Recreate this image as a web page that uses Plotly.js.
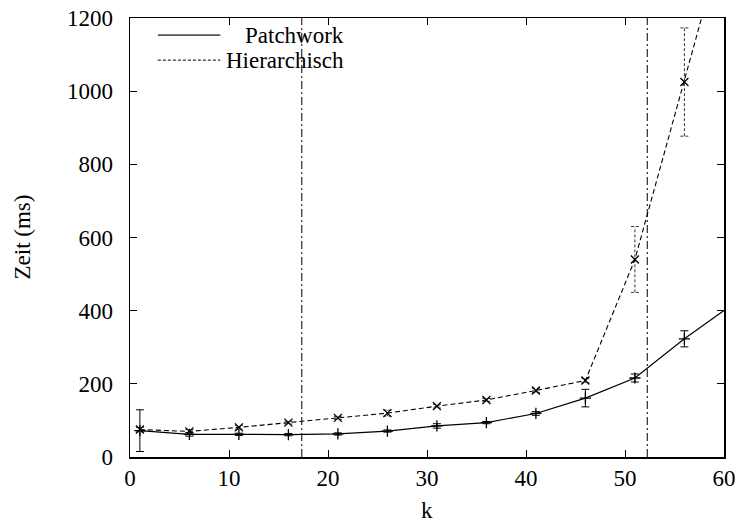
<!DOCTYPE html>
<html>
<head>
<meta charset="utf-8">
<script src="https://cdn.plot.ly/plotly-3.0.1.min.js"></script>
<style>html,body{margin:0;padding:0;background:#fff;}#chart{width:742px;height:527px;}</style>
</head>
<body>
<div id="chart"></div>
<script>
// ---- data ----
const kValues = [1, 6, 11, 16, 21, 26, 31, 36, 41, 46, 51, 56, 61];
const patchworkTime = [72, 62, 62, 61, 63, 71, 85, 94, 119, 161, 216, 323, 420];
const patchworkErr = [57, 5, 3, 3, 3, 3, 6, 3, 5, 24, 11, 22, 20];
const hierarchTime = [75, 70, 81, 94, 107, 120, 139, 156, 182, 209, 540, 1025, 1520];
const hierarchErr = [6, 5, 5, 4, 4, 8, 5, 4, 6, 6, 90, 148, 200];
const thresholds = [17.35, 52.25];
const seriesNames = ['Patchwork', 'Hierarchisch'];
const xTicks = [0, 10, 20, 30, 40, 50, 60];
const yTicks = [0, 200, 400, 600, 800, 1000, 1200];
const xTitle = 'k';
const yTitle = 'Zeit (ms)';

const FONT = "'Liberation Serif', 'Times New Roman', serif";
const FS = 23;

// dashed error bars for Hierarchisch built from the data
const capW = 0.4;
const ebx = [], eby = [];
kValues.forEach((k, i) => {
  const lo = hierarchTime[i] - hierarchErr[i], hi = hierarchTime[i] + hierarchErr[i];
  ebx.push(k, k, null, k - capW, k + capW, null, k - capW, k + capW, null);
  eby.push(lo, hi, null, lo, lo, null, hi, hi, null);
});

const traces = [
  {
    x: kValues, y: patchworkTime, type: 'scatter', mode: 'lines+markers', name: seriesNames[0],
    line: {color: '#000', width: 1.2},
    marker: {symbol: 'cross-thin', size: 8, line: {color: '#000', width: 1.3}},
    error_y: {type: 'data', array: patchworkErr, visible: true, color: '#000', thickness: 1, width: 4},
    cliponaxis: true, showlegend: false
  },
  {
    x: ebx, y: eby, type: 'scatter', mode: 'lines', hoverinfo: 'skip',
    line: {color: '#333', width: 1, dash: '3px,2px'}, showlegend: false
  },
  {
    x: kValues, y: hierarchTime, type: 'scatter', mode: 'lines+markers', name: seriesNames[1],
    line: {color: '#000', width: 1.1, dash: '5px,3px'},
    marker: {symbol: 'x-thin', size: 8, line: {color: '#000', width: 1.3}},
    showlegend: false
  }
];

const shapes = thresholds.map(t => ({
  type: 'line', xref: 'x', yref: 'paper', x0: t, x1: t, y0: 0, y1: 1,
  line: {color: '#000', width: 1, dash: '8px,3px,2px,3px'}
}));
// legend samples
shapes.push({type: 'line', xref: 'paper', yref: 'paper', x0: 0.047, x1: 0.152, y0: 0.961, y1: 0.961,
  line: {color: '#555', width: 1.6}});
shapes.push({type: 'line', xref: 'paper', yref: 'paper', x0: 0.047, x1: 0.152, y0: 0.904, y1: 0.904,
  line: {color: '#000', width: 1, dash: '3px,2px'}});

const annotations = [
  {xref: 'paper', yref: 'paper', x: 0.364, y: 0.961, xanchor: 'right', yanchor: 'middle', showarrow: false,
   text: seriesNames[0], font: {family: FONT, size: FS, color: '#000'}},
  {xref: 'paper', yref: 'paper', x: 0.364, y: 0.904, xanchor: 'right', yanchor: 'middle', showarrow: false,
   text: seriesNames[1], font: {family: FONT, size: FS, color: '#000'}},
  {xref: 'paper', yref: 'paper', x: 0.5, y: 0, yshift: -53, xanchor: 'center', yanchor: 'middle', showarrow: false,
   text: xTitle, font: {family: FONT, size: FS, color: '#000'}},
  {xref: 'paper', yref: 'paper', x: 0, xshift: -108, y: 0.5, xanchor: 'center', yanchor: 'middle', showarrow: false,
   textangle: -90, text: yTitle, font: {family: FONT, size: FS, color: '#000'}}
];

const layout = {
  width: 742, height: 527,
  margin: {l: 130, r: 18, t: 18, b: 70},
  paper_bgcolor: '#fff', plot_bgcolor: '#fff',
  font: {family: FONT, size: FS, color: '#000'},
  showlegend: false,
  xaxis: {
    range: [0, 60], tickvals: xTicks, ticktext: xTicks.map(String),
    ticks: 'inside', ticklen: 7, tickwidth: 1, tickcolor: '#000',
    showline: true, linecolor: '#000', linewidth: 1.5, mirror: 'ticks',
    showgrid: false, zeroline: false,
    tickfont: {family: FONT, size: FS}, ticklabelstandoff: 0
  },
  yaxis: {
    range: [0, 1200], tickvals: yTicks, ticktext: yTicks.map(String),
    ticks: 'inside', ticklen: 7, tickwidth: 1, tickcolor: '#000',
    showline: true, linecolor: '#000', linewidth: 1.5, mirror: 'ticks',
    showgrid: false, zeroline: false,
    tickfont: {family: FONT, size: FS}, ticklabelstandoff: 11
  },
  shapes: shapes,
  annotations: annotations
};

Plotly.newPlot('chart', traces, layout, {displayModeBar: false, staticPlot: true});
</script>
</body>
</html>
